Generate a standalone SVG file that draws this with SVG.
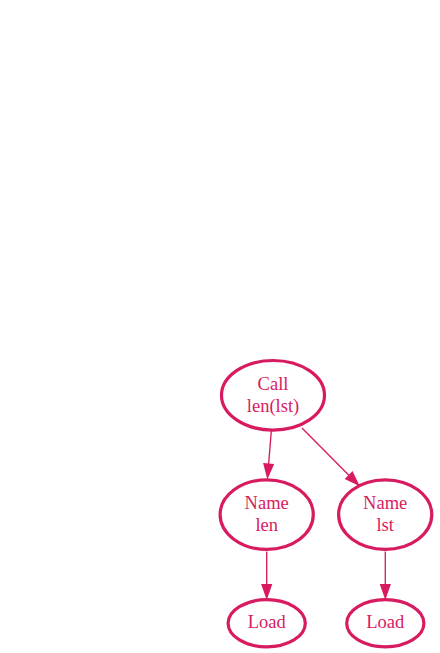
<svg xmlns="http://www.w3.org/2000/svg" width="440" height="653" viewBox="0 0 440 653">
<style>
.node ellipse{fill:none;stroke:#d81b60;stroke-width:3.2}
.node text{font-family:"Liberation Serif","Times New Roman",serif;font-size:18.5px;fill:#d81b60;text-anchor:middle}
.edge{stroke:#d81b60;stroke-width:1.35;fill:none}
</style>
<defs>
<marker id="arr" markerUnits="userSpaceOnUse" viewBox="0 -5 14 10" markerWidth="14" markerHeight="10" refX="0" refY="0" orient="auto" overflow="visible">
<path d="M0,-4.67 L13.3,0 L0,4.67 z" fill="#d81b60" stroke="#d81b60" stroke-width="1.3"/>
</marker>
</defs>
<rect width="440" height="653" fill="#fff"/>
<g id="edges">
<path class="edge" d="M271.3,431 L268.6,464.2" marker-end="url(#arr)"/>
<path class="edge" d="M302,428 L349.1,475.5" marker-end="url(#arr)"/>
<path class="edge" d="M266.7,551.5 L266.7,584.7" marker-end="url(#arr)"/>
<path class="edge" d="M385.3,551.5 L385.3,584.7" marker-end="url(#arr)"/>
</g>
<g id="call" class="node">
<ellipse cx="273" cy="395.3" rx="51.5" ry="34.8"/>
<text x="273" y="390">Call</text>
<text x="273" y="411.6">len(lst)</text>
</g>
<g id="name_len" class="node">
<ellipse cx="266.7" cy="514.6" rx="46.6" ry="34.8"/>
<text x="266.7" y="509.4">Name</text>
<text x="266.7" y="530.8">len</text>
</g>
<g id="name_lst" class="node">
<ellipse cx="385.2" cy="514.6" rx="46.6" ry="34.8"/>
<text x="385.2" y="509.4">Name</text>
<text x="385.2" y="530.8">lst</text>
</g>
<g id="load_1" class="node">
<ellipse cx="266.7" cy="623.3" rx="38.6" ry="23.6"/>
<text x="266.7" y="628">Load</text>
</g>
<g id="load_2" class="node">
<ellipse cx="385.3" cy="623.3" rx="38.6" ry="23.6"/>
<text x="385.3" y="628">Load</text>
</g>
</svg>
